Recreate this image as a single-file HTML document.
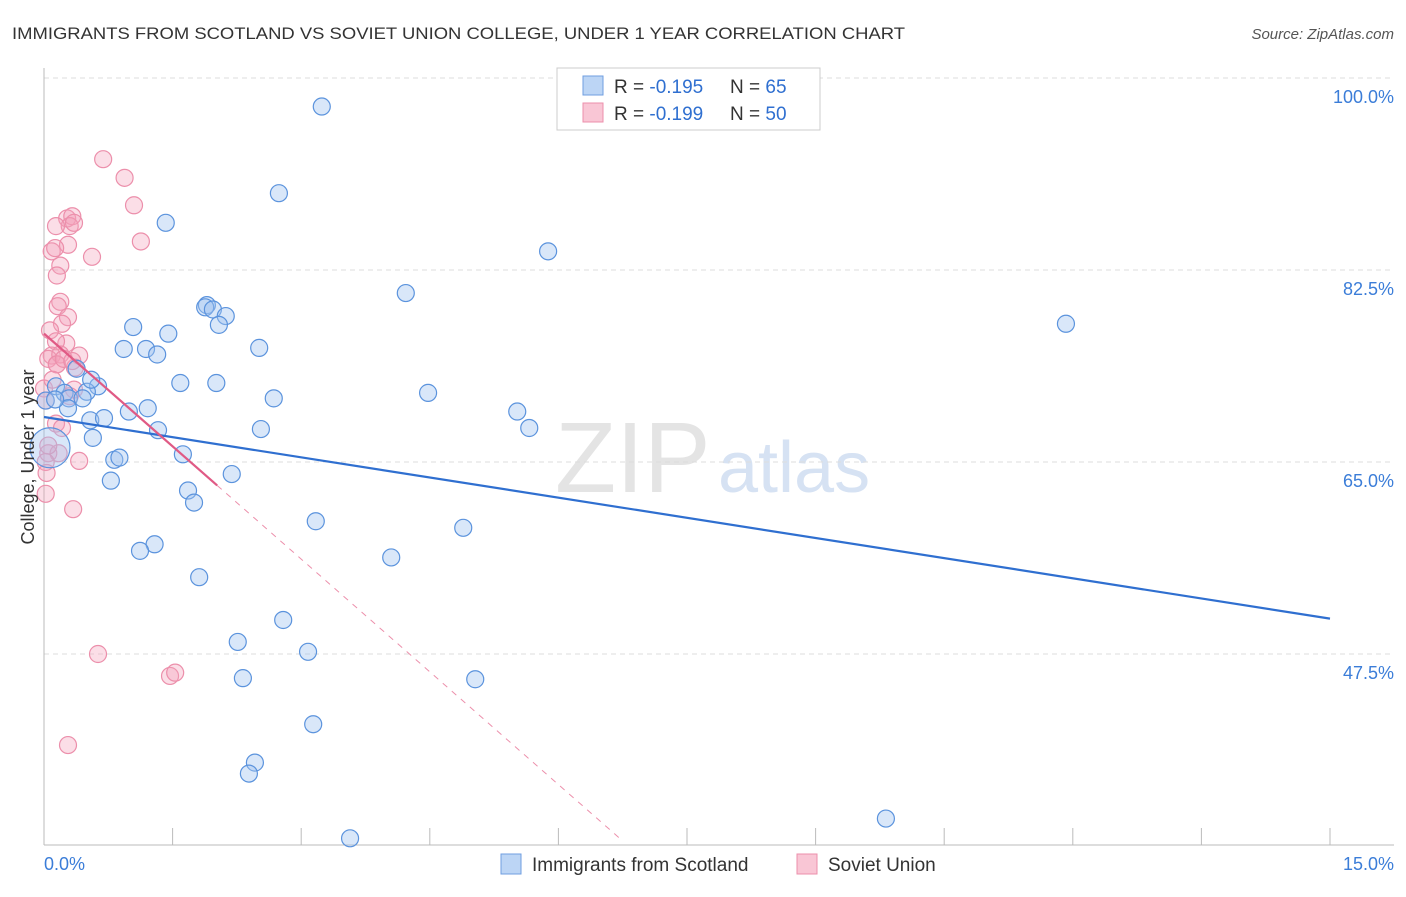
<!DOCTYPE html>
<html><head><meta charset="utf-8"><style>
body{margin:0;background:#fff;font-family:"Liberation Sans",sans-serif;}
svg text{font-family:"Liberation Sans",sans-serif;}
</style></head><body>
<svg width="1406" height="892" xmlns="http://www.w3.org/2000/svg" id="chart">
<text x="12" y="39" font-size="17" fill="#333" textLength="893" lengthAdjust="spacingAndGlyphs">IMMIGRANTS FROM SCOTLAND VS SOVIET UNION COLLEGE, UNDER 1 YEAR CORRELATION CHART</text>
<text x="1394" y="39" font-size="15" fill="#555" text-anchor="end" font-style="italic">Source: ZipAtlas.com</text>
<text x="555" y="492" font-size="100" fill="#e4e4e4" font-family="Liberation Serif">ZIP</text>
<text x="718" y="492" font-size="72" fill="#d6e2f3">atlas</text>
<g id="grid"></g><g id="axes"></g><g id="pts"></g><g id="lines"></g>
<text transform="translate(34,457) rotate(-90)" font-size="18" fill="#333" text-anchor="middle">College, Under 1 year</text>
<text x="44" y="870" font-size="18" fill="#3b7dd8">0.0%</text>
<text x="1394" y="870" font-size="18" fill="#3b7dd8" text-anchor="end">15.0%</text>
<g>
<rect x="557" y="68" width="263" height="62" fill="#fff" stroke="#ccc"/>
<rect x="583" y="76" width="20" height="19" fill="#bcd5f5" stroke="#6f9ee0"/>
<rect x="583" y="103" width="20" height="19" fill="#f9c6d5" stroke="#ec8fab"/>
<text x="614" y="93" font-size="19" fill="#333">R = <tspan fill="#2f6fd0">-0.195</tspan></text>
<text x="730" y="93" font-size="19" fill="#333">N = <tspan fill="#2f6fd0">65</tspan></text>
<text x="614" y="120" font-size="19" fill="#333">R = <tspan fill="#2f6fd0">-0.199</tspan></text>
<text x="730" y="120" font-size="19" fill="#333">N = <tspan fill="#2f6fd0">50</tspan></text>
</g>
<g>
<rect x="501" y="854" width="20" height="20" fill="#bcd5f5" stroke="#6f9ee0"/>
<text x="532" y="871" font-size="19" fill="#333">Immigrants from Scotland</text>
<rect x="797" y="854" width="20" height="20" fill="#f9c6d5" stroke="#ec8fab"/>
<text x="828" y="871" font-size="19" fill="#333">Soviet Union</text>
</g>
</svg>
<script>
const yTicks=[100,82.5,65,47.5];
const yTickLabels=["100.0%","82.5%","65.0%","47.5%"];
const xTicks=[0,1.5,3,4.5,6,7.5,9,10.5,12,13.5,15];
const blueX=[3.24,2.74,1.42,5.88,4.22,11.92,1.90,1.88,1.97,2.12,2.04,1.04,1.45,0.93,1.19,1.32,2.51,0.38,0.14,0.24,0.63,0.50,1.59,2.01,0.02,0.29,0.45,0.28,0.54,0.70,0.99,1.21,2.68,4.48,5.52,0.57,1.33,2.53,5.66,1.62,0.82,0.88,2.19,0.78,1.68,1.75,3.17,4.89,1.29,1.12,4.05,1.81,2.79,2.26,3.08,2.32,5.03,3.14,2.46,2.39,3.57,9.82,0.07,0.13,0.55];
const blueY=[97.4,89.5,86.8,84.2,80.4,77.6,79.3,79.1,78.9,78.3,77.5,77.3,76.7,75.3,75.3,74.8,75.4,73.5,71.9,71.3,71.9,71.4,72.2,72.2,70.6,70.8,70.8,69.9,68.8,69.0,69.6,69.9,70.8,71.3,69.6,67.2,67.9,68.0,68.1,65.7,65.2,65.4,63.9,63.3,62.4,61.3,59.6,59.0,57.5,56.9,56.3,54.5,50.6,48.6,47.7,45.3,45.2,41.1,37.6,36.6,30.7,32.5,66.3,70.7,72.5];
const pinkX=[0.69,0.94,1.05,1.13,0.56,0.27,0.33,0.30,0.35,0.14,0.09,0.28,0.13,0.19,0.15,0.19,0.16,0.28,0.21,0.07,0.26,0.14,0.09,0.05,0.19,0.41,0.36,0.15,0.00,0.02,0.14,0.21,0.05,0.17,0.41,0.02,0.03,0.02,0.34,0.63,1.47,1.53,0.28,0.15,0.23,0.35,0.10,0.33,0.30,0.05];
const pinkY=[92.6,90.9,88.4,85.1,83.7,87.2,87.4,86.5,86.8,86.5,84.2,84.8,84.5,82.9,82.0,79.6,79.2,78.2,77.6,77.0,75.8,76.0,74.7,74.4,74.8,74.7,73.6,73.9,71.7,70.6,68.5,68.1,65.8,65.8,65.1,65.0,64.0,62.1,60.7,47.5,45.5,45.8,39.2,73.9,74.4,71.6,72.5,74.2,71.0,66.5];
const NS="http://www.w3.org/2000/svg";
const X=v=>44+v/15*1286, Y=v=>78+(100-v)/17.5*192;
function mk(t,a,p){const e=document.createElementNS(NS,t);for(const k in a)e.setAttribute(k,a[k]);p.appendChild(e);return e;}
const grid=document.getElementById('grid'),axes=document.getElementById('axes'),pts=document.getElementById('pts'),lines=document.getElementById('lines');
yTicks.forEach((t,i)=>{
 const l=mk('line',{x1:44,x2:1394,y1:Y(t),y2:Y(t),stroke:'#ddd','stroke-dasharray':'5,4'},grid);
 
 
 const tx=mk('text',{x:1394,y:Y(t)+25,'font-size':18,fill:'#3b7dd8','text-anchor':'end'},grid);
 tx.textContent=yTickLabels[i];
 
 
});
const ya=mk('line',{x1:44,x2:44,y1:68,y2:845,stroke:'#bbb'},axes);


const xa=mk('line',{x1:44,x2:1394,y1:845,y2:845,stroke:'#bbb'},axes);


xTicks.forEach(t=>{const l=mk('line',{x1:X(t),x2:X(t),y1:828,y2:845,stroke:'#bbb'},axes);
 
 });
pinkX.forEach((x,i)=>{const c=mk('circle',{cx:X(x),cy:Y(pinkY[i]),r:8.5,fill:'rgba(244,160,186,0.35)',stroke:'#ec8fab','stroke-width':1.2},pts);
 
 });
blueX.forEach((x,i)=>{const r=i==62?20:8.5;const c=mk('circle',{cx:X(x),cy:Y(blueY[i]),r:r,fill:'rgba(160,196,240,0.4)',stroke:'#5b93dd','stroke-width':1.2},pts);
 
 });
const bf=[69.1,-1.225];
const bl=mk('line',{x1:X(0),y1:Y(bf[0]),x2:X(15),y2:Y(bf[0]+bf[1]*15),stroke:'#2f6fd0','stroke-width':2.2},lines);


const pf=[76.7,-6.85];
const pEnd=2.02;
const pd=mk('line',{x1:X(pEnd),y1:Y(pf[0]+pf[1]*pEnd),x2:X(6.75),y2:Y(pf[0]+pf[1]*6.75),stroke:'#ec8fab','stroke-width':1,'stroke-dasharray':'6,6'},lines);


const pl=mk('line',{x1:X(0),y1:Y(pf[0]),x2:X(pEnd),y2:Y(pf[0]+pf[1]*pEnd),stroke:'#e05a85','stroke-width':2.2},lines);


</script>
</body></html>
